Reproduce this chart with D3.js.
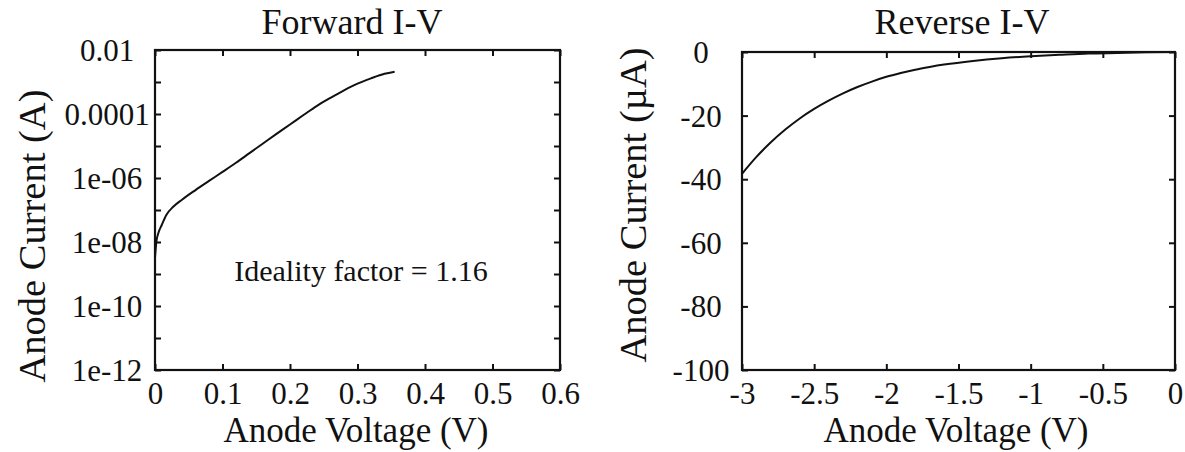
<!DOCTYPE html>
<html>
<head>
<meta charset="utf-8">
<script src="https://cdn.jsdelivr.net/npm/d3@7"></script>
<style>
  body { margin: 0; background: #fff; }
</style>
</head>
<body>
<div id="chart"></div>
<script>
// forward sweep: voltage (V) and current (A)
const fwdVoltage = [0, 0.002, 0.005, 0.01, 0.017, 0.027, 0.04, 0.06, 0.08, 0.1, 0.12, 0.14, 0.16,
  0.18, 0.2, 0.22, 0.24, 0.26, 0.28, 0.3, 0.32, 0.34, 0.355];
const fwdCurrent = [3.2e-9, 1e-8, 1.9e-8, 3.4e-8, 7.1e-8, 1.26e-7, 2.1e-7, 4.2e-7, 8.1e-7, 1.55e-6,
  3.0e-6, 6.0e-6, 1.2e-5, 2.4e-5, 4.7e-5, 9.3e-5, 1.8e-4, 3.2e-4, 5.5e-4, 8.9e-4, 1.3e-3, 1.8e-3, 2.1e-3];

// reverse sweep: voltage (V) and current (uA)
const revVoltage = [-3, -2.9, -2.8, -2.7, -2.6, -2.5, -2.4, -2.3, -2.2, -2.1, -2.0, -1.9, -1.8, -1.7,
  -1.6, -1.4, -1.2, -1.0, -0.8, -0.6, -0.4, -0.2, 0];
const revCurrent = [-38.3, -33.0, -28.4, -24.4, -20.9, -17.9, -15.3, -13.0, -11.0, -9.3, -7.8, -6.6,
  -5.55, -4.7, -3.95, -2.8, -1.95, -1.35, -0.9, -0.5, -0.3, -0.1, 0];

// tick values and labels
const fwdXTicks = [0, 0.1, 0.2, 0.3, 0.4, 0.5, 0.6];
const fwdYTicks = [1e-2, 1e-3, 1e-4, 1e-5, 1e-6, 1e-7, 1e-8, 1e-9, 1e-10, 1e-11, 1e-12];
const fwdYLabelValues = [1e-2, 1e-4, 1e-6, 1e-8, 1e-10, 1e-12];
const fwdYLabelText = ['0.01', '0.0001', '1e-06', '1e-08', '1e-10', '1e-12'];
const revXTicks = [-3, -2.5, -2, -1.5, -1, -0.5, 0];
const revYTicks = [0, -20, -40, -60, -80, -100];

const width = 1185, height = 452;

const svg = d3.select('#chart')
  .append('svg')
  .attr('width', width)
  .attr('height', height);

// every text goes through here so the font is always set inline
function label(sel, size) {
  return sel
    .attr('font-family', null)
    .style('font-family', '"Liberation Serif"')
    .style('font-size', size + 'px')
    .style('fill', '#111');
}

// draws one framed panel with inward ticks on all four sides
function drawPanel(opt) {
  const { left, right, top, bottom, x, y } = opt;
  const g = svg.append('g');

  // ticks on all sides (labels only bottom and left)
  g.append('g')
    .attr('transform', `translate(0,${bottom})`)
    .call(d3.axisBottom(x).tickValues(opt.xTicks).tickSizeInner(-6).tickSizeOuter(0)
      .tickFormat(opt.xFormat))
    .call(a => label(a.selectAll('text').attr('y', 34).attr('dy', 0), 31));
  g.append('g')
    .attr('transform', `translate(0,${top})`)
    .call(d3.axisTop(x).tickValues(opt.xTicks).tickSizeInner(-6).tickSizeOuter(0).tickFormat(''));
  g.append('g')
    .attr('transform', `translate(${left},0)`)
    .call(d3.axisLeft(y).tickValues(opt.yTicks).tickSizeInner(-6).tickSizeOuter(0)
      .tickFormat(opt.yFormat))
    .call(a => label(a.selectAll('text')
      .attr('x', opt.yLabelX - left).attr('dy', '0.34em')
      .attr('text-anchor', 'middle'), 31));
  g.append('g')
    .attr('transform', `translate(${right},0)`)
    .call(d3.axisRight(y).tickValues(opt.yTicks).tickSizeInner(-6).tickSizeOuter(0).tickFormat(''));

  g.selectAll('.domain').remove();
  g.selectAll('g').attr('font-family', null);
  g.selectAll('.tick line').attr('stroke', '#111').attr('stroke-width', 2);

  // frame
  g.append('rect')
    .attr('x', left).attr('y', top)
    .attr('width', right - left).attr('height', bottom - top)
    .attr('fill', 'none').attr('stroke', '#111').attr('stroke-width', 2.2);

  // curve
  const line = d3.line()
    .x(d => x(d[0]))
    .y(d => y(d[1]))
    .curve(d3.curveMonotoneX);
  g.append('path')
    .datum(d3.zip(opt.xs, opt.ys))
    .attr('d', line)
    .attr('fill', 'none').attr('stroke', '#111').attr('stroke-width', 2);

  // title
  label(g.append('text'), 36)
    .attr('x', opt.titleX).attr('y', 34)
    .attr('text-anchor', 'middle')
    .text(opt.title);

  // x axis label
  label(g.append('text'), 35)
    .attr('x', opt.xLabelX).attr('y', 442)
    .attr('text-anchor', 'middle')
    .text('Anode Voltage (V)');

  // y axis label
  label(g.append('text'), 38.5)
    .attr('transform', `translate(${opt.yTitleX},${opt.yTitleY}) rotate(-90)`)
    .attr('text-anchor', 'middle')
    .text(opt.yTitle);

  return g;
}

// forward I-V (log scale)
const xFwd = d3.scaleLinear().domain([0, 0.6]).range([155, 560]);
const yFwd = d3.scaleLog().domain([1e-12, 1e-2]).range([370, 50]);

const fwd = drawPanel({
  left: 155, right: 560, top: 50, bottom: 370,
  x: xFwd, y: yFwd,
  xs: fwdVoltage, ys: fwdCurrent,
  xTicks: fwdXTicks, yTicks: fwdYTicks,
  xFormat: d => d3.format('')(d),
  yFormat: d => {
    const i = fwdYLabelValues.findIndex(v => Math.abs(Math.log10(v) - Math.log10(d)) < 1e-6);
    return i >= 0 ? fwdYLabelText[i] : '';
  },
  yLabelX: 107,
  title: 'Forward I-V', titleX: 352,
  xLabelX: 356,
  yTitle: 'Anode Current (A)', yTitleX: 45, yTitleY: 236
});

label(fwd.append('text'), 30)
  .attr('x', 361).attr('y', 281)
  .attr('text-anchor', 'middle')
  .text('Ideality factor = 1.16');

// reverse I-V (linear scale)
const xRev = d3.scaleLinear().domain([-3, 0]).range([742, 1175]);
const yRev = d3.scaleLinear().domain([-100, 0]).range([370, 52]);

drawPanel({
  left: 742, right: 1175, top: 52, bottom: 370,
  x: xRev, y: yRev,
  xs: revVoltage, ys: revCurrent,
  xTicks: revXTicks, yTicks: revYTicks,
  xFormat: d => d3.format('')(d).replace('\u2212', '-'),
  yFormat: d => d3.format('')(d).replace('\u2212', '-'),
  yLabelX: 701,
  title: 'Reverse I-V', titleX: 962,
  xLabelX: 956,
  yTitle: 'Anode Current (\u00b5A)', yTitleX: 646, yTitleY: 205
});
</script>
</body>
</html>
